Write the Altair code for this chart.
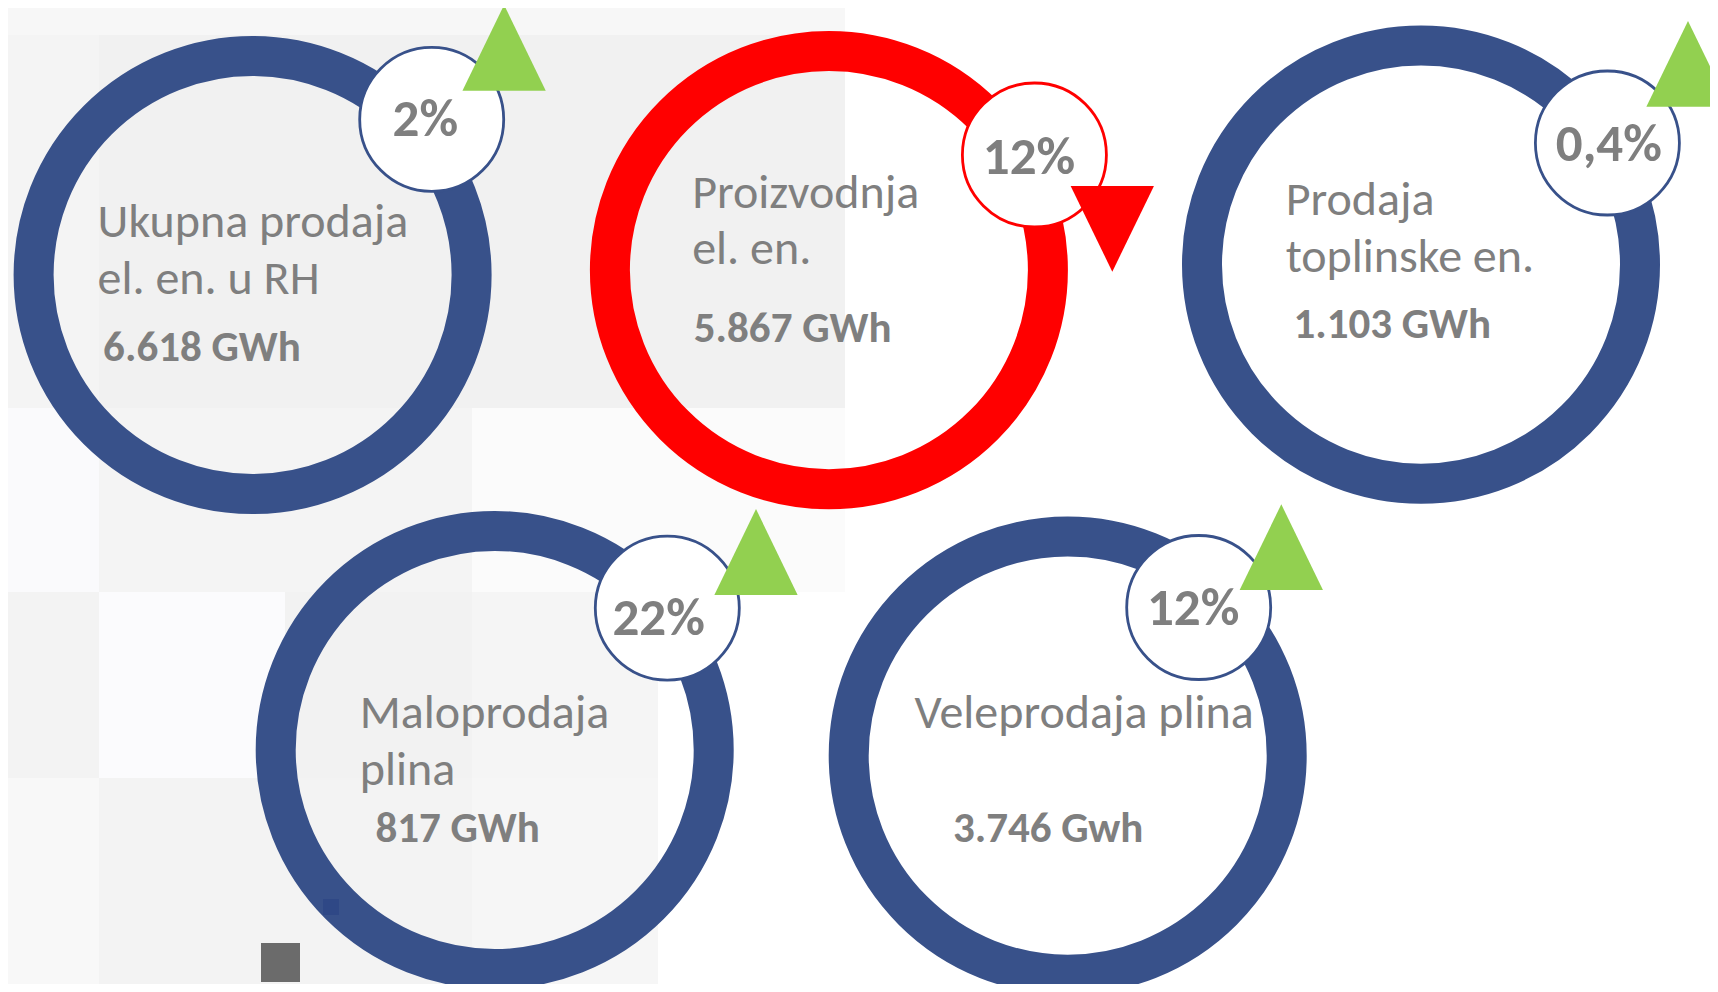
import altair as alt
import pandas as pd

# ---------------- data ----------------
label_line1 = ["Ukupna prodaja", "Proizvodnja", "Prodaja", "Maloprodaja", "Veleprodaja plina"]
label_line2 = ["el. en. u RH", "el. en.", "toplinske en.", "plina", ""]
amounts = ["6.618 GWh", "5.867 GWh", "1.103 GWh", "817 GWh", "3.746 Gwh"]
changes = ["2%", "12%", "0,4%", "22%", "12%"]
direction = ["up", "down", "up", "up", "up"]

# ---------------- layout (page pixel coordinates) ----------------
ring_cx = [252.6, 828.9, 1421.0, 494.7, 1067.7]
ring_cy = [275.0, 270.1, 264.6, 750.0, 755.6]
badge_cx = [431.7, 1034.4, 1607.4, 667.3, 1198.7]
badge_cy = [119.4, 155.0, 143.0, 608.1, 607.5]
tri_cx = [504.1, 1112.3, 1688.0, 756.0, 1281.3]
tri_cy = [47.8, 228.8, 63.9, 552.0, 547.2]
label_x = [97.6, 692.2, 1285.7, 359.8, 914.6]
label_y = [237.3, 207.5, 215.0, 728.3, 727.7]
line_gap = 56.8
amount_x = [103.1, 693.8, 1293.4, 375.4, 952.9]
amount_y = [360.6, 341.6, 338.3, 842.3, 842.3]
pct_x = [425.3, 1029.0, 1608.8, 658.7, 1193.2]
pct_y = [136.0, 173.5, 160.7, 635.0, 625.0]

bg_x0 = [0, 0, 99, 0, 99, 472, 0, 99, 285, 472, 0, 99, 472]
bg_x1 = [845, 99, 845, 99, 472, 845, 99, 285, 472, 658, 99, 472, 658]
bg_y0 = [0, 35, 35, 408, 408, 408, 592, 592, 592, 592, 778, 778, 778]
bg_y1 = [35, 408, 408, 592, 592, 592, 778, 778, 778, 778, 992, 992, 992]
bg_col = ["#f7f7f7", "#f4f4f4", "#f1f1f1", "#fafafc", "#f4f4f4", "#fbfbfb",
          "#f3f3f3", "#fbfbfd", "#f2f2f2", "#f5f5f5", "#f8f8f8", "#f3f3f3", "#f6f6f6"]

NAVY = "#38518a"
BADGE_NAVY = "#3a4186"
RED = "#ff0000"
GREEN = "#92d050"
GRAY = "#7f7f7f"
FONT = "Carlito, Lato, 'Open Sans', sans-serif"

W, H = 1702, 976
xs = alt.Scale(domain=[8, 8 + W], nice=False, zero=False)
ys = alt.Scale(domain=[8, 8 + H], nice=False, zero=False, reverse=True)


def X(f="x"):
    return alt.X(f"{f}:Q", scale=xs, axis=None)


def Y(f="y"):
    return alt.Y(f"{f}:Q", scale=ys, axis=None)


items = pd.DataFrame({
    "l1": label_line1, "l2": label_line2, "amount": amounts, "change": changes,
    "dir": direction, "rx": ring_cx, "ry": ring_cy, "bx": badge_cx, "by": badge_cy,
    "tx": tri_cx, "ty": tri_cy, "px": pct_x, "py": pct_y,
    "ax": amount_x, "ay": amount_y,
})

label_rows = []
for i in range(len(label_line1)):
    label_rows.append({"x": label_x[i], "y": label_y[i], "t": label_line1[i]})
    if label_line2[i]:
        label_rows.append({"x": label_x[i], "y": label_y[i] + line_gap, "t": label_line2[i]})
labels = pd.DataFrame(label_rows)

bg = pd.DataFrame({"x": bg_x0, "x2": bg_x1, "y": bg_y0, "y2": bg_y1, "c": bg_col})

ring_color = alt.Color("dir:N", scale=alt.Scale(domain=["up", "down"], range=[NAVY, RED]), legend=None)
badge_color = alt.Color("dir:N", scale=alt.Scale(domain=["up", "down"], range=[BADGE_NAVY, RED]), legend=None)
tri_color = alt.Color("dir:N", scale=alt.Scale(domain=["up", "down"], range=[GREEN, RED]), legend=None)
tri_shape = alt.Shape("dir:N", scale=alt.Scale(domain=["up", "down"],
                      range=["M0,-1.03L1,1.03L-1,1.03Z", "M-1,-1.03L1,-1.03L0,1.03Z"]), legend=None)

background = alt.Chart(bg).mark_rect(strokeWidth=0).encode(
    x=X("x"), x2="x2:Q", y=Y("y"), y2="y2:Q",
    color=alt.Color("c:N", scale=None),
)

rings = alt.Chart(items).mark_point(shape="circle", filled=False, strokeWidth=40, size=438 ** 2, opacity=1).encode(
    x=X("rx"), y=Y("ry"), stroke=ring_color,
)

badges = alt.Chart(items).mark_point(shape="circle", filled=False, fill="white", fillOpacity=1,
                                     strokeWidth=2.8, size=144 ** 2, opacity=1).encode(
    x=X("bx"), y=Y("by"), stroke=badge_color,
)

triangles = alt.Chart(items).mark_point(filled=True, size=83.3 ** 2, opacity=1, strokeWidth=0).encode(
    x=X("tx"), y=Y("ty"), fill=tri_color, shape=tri_shape,
)

label_text = alt.Chart(labels).mark_text(align="left", baseline="alphabetic", font=FONT,
                                         fontSize=48, color=GRAY).encode(
    x=X("x"), y=Y("y"), text="t:N",
)

amount_text = alt.Chart(items).mark_text(align="left", baseline="alphabetic", font=FONT,
                                         fontSize=43, fontWeight="bold", color=GRAY).encode(
    x=X("ax"), y=Y("ay"), text="amount:N",
)

pct_text = alt.Chart(items).mark_text(align="center", baseline="alphabetic", font=FONT,
                                      fontSize=53, fontWeight="bold", color=GRAY).encode(
    x=X("px"), y=Y("py"), text="change:N",
)

# small decorative squares from the original slide
sq = pd.DataFrame({"x": [261, 323], "x2": [300, 339], "y": [943, 899], "y2": [982, 915],
                   "c": ["#6b6b6b", "#2f4886"]})
squares = alt.Chart(sq).mark_rect(strokeWidth=0).encode(
    x=X("x"), x2="x2:Q", y=Y("y"), y2="y2:Q", color=alt.Color("c:N", scale=None),
)

chart = alt.layer(background, rings, squares, badges, triangles, label_text, amount_text, pct_text).properties(
    width=W, height=H, padding=0, autosize=alt.AutoSizeParams(type="none"), background="white",
).configure_view(stroke=None)

chart.save("out.html", embed_options={"renderer": "svg", "actions": False})
